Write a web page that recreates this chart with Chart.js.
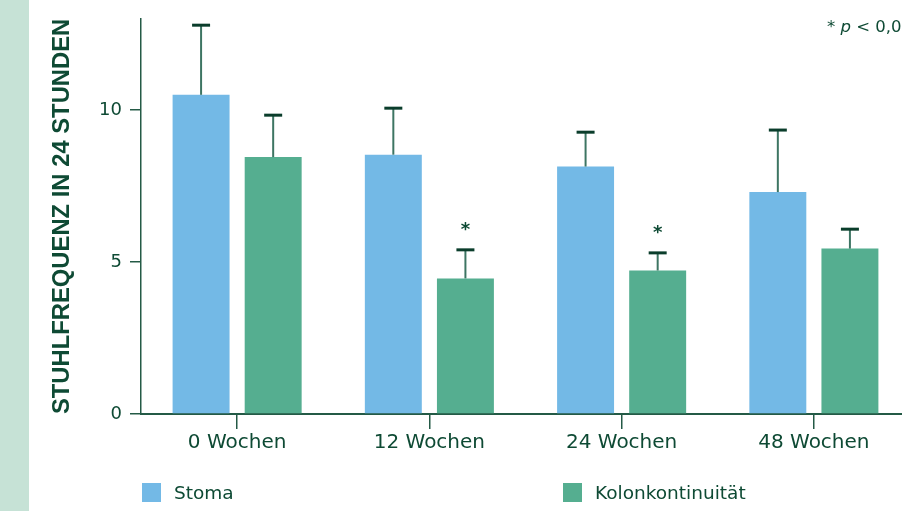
<!DOCTYPE html>
<html lang="de">
<head>
<meta charset="utf-8">
<title>Stuhlfrequenz in 24 Stunden</title>
<script src="https://cdn.jsdelivr.net/npm/chart.js@4.4.1/dist/chart.umd.min.js"></script>
<style>
  html, body { margin: 0; padding: 0; background: #fff; overflow: hidden; }
  #wrap { width: 902px; height: 511px; overflow: hidden; position: relative; }
  canvas { display: block; }
</style>
</head>
<body>
<div id="wrap"><canvas id="chart" width="914" height="511"></canvas></div>
<script>
'use strict';

// ─── Data ─────────────────────────────────────────────────────────────────────
const CATEGORIES = ['0 Wochen', '12 Wochen', '24 Wochen', '48 Wochen'];
const STOMA      = [10.5, 8.53, 8.14, 7.3];
const STOMA_SD   = [2.29, 1.53, 1.13, 2.04];
const KOLON      = [8.45, 4.46, 4.72, 5.44];
const KOLON_SD   = [1.38, 0.94, 0.58, 0.64];
const KOLON_SIG  = [false, true, true, false];
const Y_TICKS    = [0, 5, 10];
const Y_MAX      = 13;
const NOTE       = ['* ', 'p', ' < 0,0'];

// ─── Style ────────────────────────────────────────────────────────────────────
const INK    = '#0e4a34';
const AXIS   = '#245a46';
const BLUE   = '#73b9e6';
const GREEN  = '#55ae90';
const STRIP  = '#c6e2d6';
const FONT   = '"DejaVu Sans", sans-serif';

// ─── Plugins ──────────────────────────────────────────────────────────────────
const stripPlugin = {
  id: 'strip',
  beforeDraw(chart) {
    const ctx = chart.ctx;
    ctx.save();
    ctx.fillStyle = STRIP;
    ctx.fillRect(0, 0, 29, chart.height);
    ctx.restore();
  }
};

const errorBarPlugin = {
  id: 'errorBars',
  afterDatasetsDraw(chart) {
    const ctx = chart.ctx;
    const y = chart.scales.y;
    chart.data.datasets.forEach((ds, di) => {
      const meta = chart.getDatasetMeta(di);
      meta.data.forEach((bar, i) => {
        const top = y.getPixelForValue(ds.data[i] + ds.sd[i]);
        ctx.save();
        ctx.strokeStyle = '#3d7563';
        ctx.lineWidth = 2;
        ctx.beginPath();
        ctx.moveTo(bar.x, bar.y);
        ctx.lineTo(bar.x, top);
        ctx.stroke();
        ctx.strokeStyle = '#0a3d2b';
        ctx.lineWidth = 3;
        ctx.beginPath();
        ctx.moveTo(bar.x - 9, top);
        ctx.lineTo(bar.x + 9, top);
        ctx.stroke();
        if (ds.sig && ds.sig[i]) {
          ctx.fillStyle = INK;
          ctx.font = 'bold 18px ' + FONT;
          ctx.textAlign = 'center';
          ctx.textBaseline = 'middle';
          ctx.fillText('*', bar.x, top - 20);
        }
        ctx.restore();
      });
    });
  }
};

const legendPlugin = {
  id: 'sideLegend',
  afterDraw(chart) {
    const ctx = chart.ctx;
    const xs = [142, 563];
    ctx.save();
    ctx.font = '18.5px ' + FONT;
    ctx.textBaseline = 'middle';
    ctx.textAlign = 'left';
    chart.data.datasets.forEach((ds, i) => {
      ctx.fillStyle = ds.backgroundColor;
      ctx.fillRect(xs[i], 483, 19, 19);
      ctx.fillStyle = INK;
      ctx.fillText(ds.label, xs[i] + 32, 494);
    });

    // significance note, top right
    let x = 827;
    NOTE.forEach((part, i) => {
      ctx.font = (i === 1 ? 'italic ' : '') + '16.5px ' + FONT;
      ctx.fillText(part, x, 28);
      x += ctx.measureText(part).width;
    });
    ctx.restore();
  }
};

// ─── Chart ────────────────────────────────────────────────────────────────────
new Chart(document.getElementById('chart'), {
  type: 'bar',
  data: {
    labels: CATEGORIES,
    datasets: [
      { label: 'Stoma', data: STOMA, sd: STOMA_SD, backgroundColor: BLUE },
      { label: 'Kolonkontinuität', data: KOLON, sd: KOLON_SD, sig: KOLON_SIG, backgroundColor: GREEN },
    ]
  },
  options: {
    responsive: false,
    animation: false,
    devicePixelRatio: 1,
    categoryPercentage: 0.75,
    barPercentage: 0.79,
    layout: { padding: { left: 29, top: 15, right: 4, bottom: 0 } },
    plugins: {
      legend: { display: false },
      tooltip: { enabled: false }
    },
    scales: {
      x: {
        offset: true,
        grid: { display: true, drawOnChartArea: false, drawTicks: true, tickLength: 15,
                offset: false, color: AXIS, lineWidth: 1.5 },
        border: { display: true, color: AXIS, width: 2 },
        ticks: { color: INK, font: { family: FONT, size: 20 }, padding: 2, maxRotation: 0 },
        afterFit: s => { s.height = 97; }
      },
      y: {
        min: 0,
        max: Y_MAX,
        afterBuildTicks: s => { s.ticks = Y_TICKS.map(v => ({ value: v })); },
        grid: { display: true, drawOnChartArea: false, drawTicks: true, tickLength: 11,
                color: AXIS, lineWidth: 1.5 },
        border: { display: true, color: AXIS, width: 1.5 },
        ticks: { color: INK, font: { family: FONT, size: 18 }, padding: 8 },
        title: {
          display: true,
          text: 'STUHLFREQUENZ IN 24 STUNDEN',
          color: INK,
          font: { family: '"Liberation Sans", Arial, sans-serif', size: 23.8, weight: 'bold' },
          padding: { top: 19, bottom: 0 }
        },
        afterFit: s => { s.width = 112; }
      }
    }
  },
  plugins: [stripPlugin, errorBarPlugin, legendPlugin]
});
</script>
</body>
</html>
